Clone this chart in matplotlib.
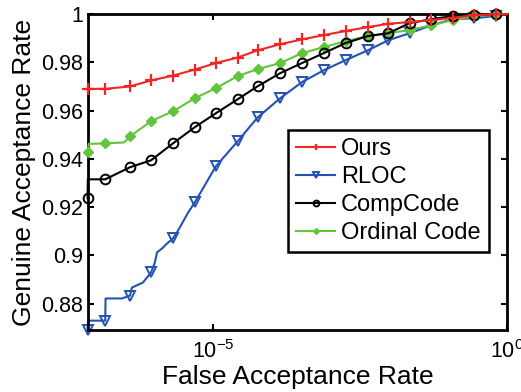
import matplotlib
matplotlib.use("Agg")
import matplotlib.pyplot as plt

plt.rcParams['font.family'] = ['Liberation Sans', 'DejaVu Sans']
plt.rcParams['mathtext.fontset'] = 'custom'
plt.rcParams['mathtext.rm'] = 'Liberation Sans'
plt.rcParams['mathtext.default'] = 'regular'

# FAR positions where markers sit (shared by all curves)
far_marks = [7.41e-8, 1.48e-7, 3.89e-7, 8.9e-7, 2.09e-6, 4.9e-6, 1.12e-5, 2.63e-5,
             5.75e-5, 1.38e-4, 3.24e-4, 7.59e-4, 1.78e-3, 4.27e-3, 9.55e-3, 0.0219,
             0.0513, 0.1175, 0.275, 0.631]

# Ours
ours_far = far_marks + [1.0]
ours_gar = [0.969, 0.969, 0.970, 0.9725, 0.9745, 0.977, 0.9797, 0.982, 0.985, 0.9875,
            0.9895, 0.9913, 0.993, 0.9946, 0.996, 0.9967, 0.9975, 0.9985, 0.9995, 1.0,
            1.0]
ours_marks = list(range(20))

# RLOC (with the small steps at low FAR)
rloc_far = [7.41e-8, 7.6e-8, 1.48e-7, 1.5e-7, 2.85e-7, 3.89e-7, 4.2e-7, 6.45e-7,
            8.9e-7, 1.03e-6, 1.12e-6, 1.36e-6, 1.66e-6, 2.09e-6, 2.45e-6, 2.98e-6,
            3.8e-6, 4.9e-6, 1.12e-5, 2.63e-5, 5.75e-5, 1.38e-4, 3.24e-4, 7.59e-4,
            1.78e-3, 4.27e-3, 9.55e-3, 0.0219, 0.0513, 0.1175, 0.275, 0.631, 1.0]
rloc_gar = [0.8692, 0.8729, 0.8729, 0.8821, 0.8821, 0.8833, 0.8866, 0.8887,
            0.8929, 0.8970, 0.9012, 0.9028, 0.9049, 0.9070, 0.9095, 0.9132,
            0.9178, 0.9219, 0.9369, 0.9473, 0.9572, 0.9651, 0.9718, 0.9767,
            0.9809, 0.9850, 0.9892, 0.9921, 0.9954, 0.9979, 0.9983, 0.9992, 1.0]
rloc_marks = [0, 2, 5, 8, 13, 17] + list(range(18, 32))

# CompCode
comp_far = [7.41e-8, 7.5e-8] + far_marks[1:] + [1.0]
comp_gar = [0.9236, 0.9315, 0.9315, 0.9365, 0.9394, 0.9464, 0.9531, 0.9589, 0.9647,
            0.9701, 0.9755, 0.9797, 0.9838, 0.9880, 0.9909, 0.9921, 0.9963, 0.9979,
            0.9992, 0.9996, 1.0, 1.0]
comp_marks = [0] + list(range(2, 21))

# Ordinal Code
ord_far = [7.41e-8, 7.8e-8, 1.48e-7, 3.09e-7] + far_marks[2:] + [1.0]
ord_gar = [0.9427, 0.9462, 0.9464, 0.9468, 0.9493, 0.9556, 0.9597, 0.9651, 0.9693,
           0.9743, 0.9772, 0.9797, 0.9838, 0.9863, 0.9888, 0.9909, 0.9921, 0.9934,
           0.9954, 0.9975, 0.9992, 0.9996, 1.0]
ord_marks = [0, 2] + list(range(4, 22))

yticks = [0.88, 0.90, 0.92, 0.94, 0.96, 0.98, 1.0]
ytick_labels = ['0.88', '0.9', '0.92', '0.94', '0.96', '0.98', '1']

fig = plt.figure(figsize=(5.21, 3.92), dpi=100)
ax = fig.add_axes([0.168, 0.158, 0.806, 0.806])

ax.plot(ours_far, ours_gar, color='#f22424', lw=1.5, marker='+', ms=8, mew=1.6,
        markevery=ours_marks, label='Ours', zorder=5, clip_on=False)
ax.plot(rloc_far, rloc_gar, color='#2352b4', lw=1.5, marker='v', ms=7, mew=1.4,
        mfc='none', markevery=rloc_marks, label='RLOC', zorder=2, clip_on=False)
ax.plot(comp_far, comp_gar, color='black', lw=1.5, marker='o', ms=7, mew=1.4,
        mfc='none', markevery=comp_marks, label='CompCode', zorder=4, clip_on=False)
ax.plot(ord_far, ord_gar, color='#62c43c', lw=1.5, marker='D', ms=5, mew=1,
        markevery=ord_marks, label='Ordinal Code', zorder=3, clip_on=False)

ax.set_xscale('log')
ax.set_xlim(7.41e-8, 1.0)
ax.set_ylim(0.869, 1.0)
ax.set_xticks([1e-5, 1e0])
ax.set_xticklabels([r'$10^{-5}$', r'$10^{0}$'])
ax.xaxis.set_minor_locator(matplotlib.ticker.NullLocator())
ax.set_yticks(yticks)
ax.set_yticklabels(ytick_labels)

for s in ax.spines.values():
    s.set_linewidth(2)
ax.tick_params(direction='in', length=4, width=1.5, top=True, right=True,
               labelsize=15.5)
ax.tick_params(axis='y', pad=3)
ax.tick_params(axis='x', pad=7)

ax.set_xlabel('False Acceptance Rate', fontsize=19, labelpad=2)
ax.set_ylabel('Genuine Acceptance Rate', fontsize=19, labelpad=4)

leg = ax.legend(loc='upper left', bbox_to_anchor=(0.477, 0.633), borderaxespad=0,
                fontsize=17, markerscale=0.6, handlelength=1.65, handletextpad=0.25,
                labelspacing=0.25, borderpad=0.35, fancybox=False, framealpha=1)
leg.get_frame().set_edgecolor('black')
leg.get_frame().set_linewidth(1.8)

fig.savefig('out.png', dpi=100)
